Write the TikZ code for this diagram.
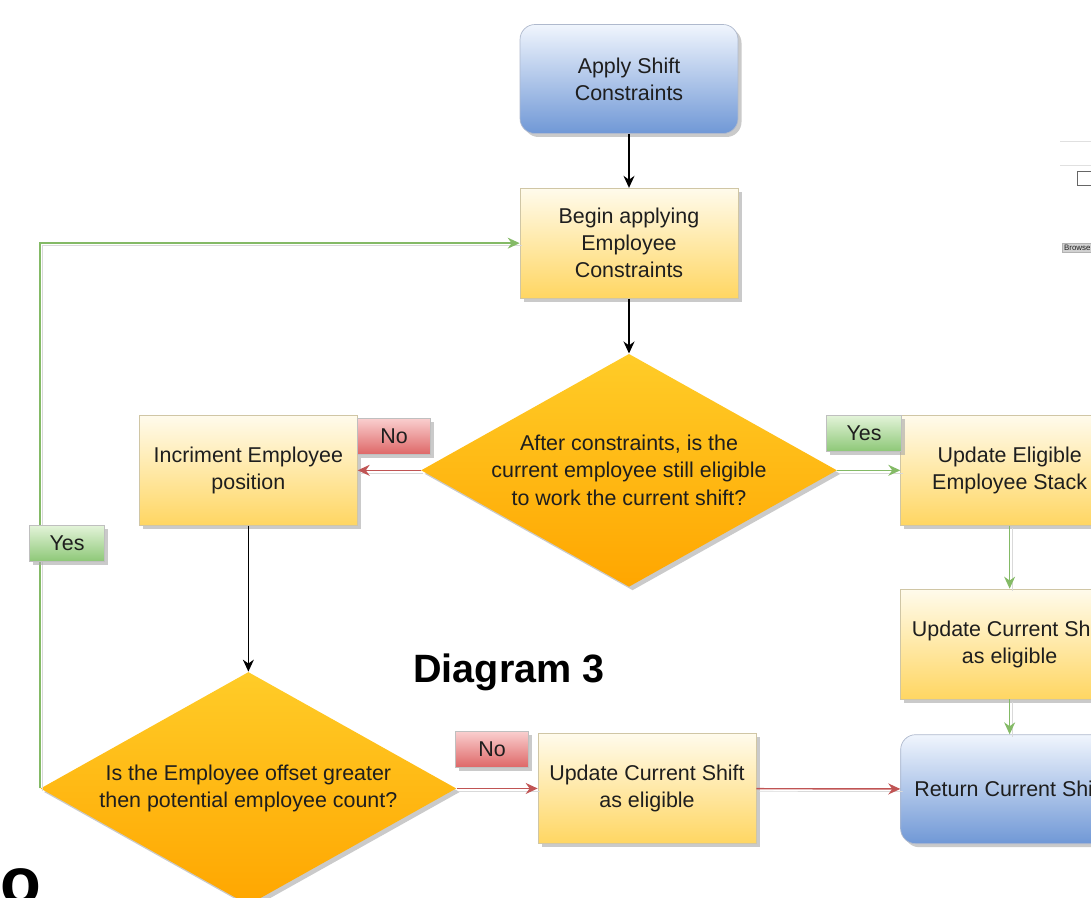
\documentclass[tikz,border=0pt]{standalone}
\usepackage{fontspec}
\setmainfont{Liberation Sans}
\usepackage{xcolor}
\usetikzlibrary{arrows.meta,positioning,shapes.geometric,shadows}

\definecolor{boxtop}{RGB}{255,251,236}
\definecolor{boxmid}{RGB}{255,236,165}
\definecolor{boxbot}{RGB}{255,214,98}
\definecolor{boxline}{RGB}{208,198,165}
\definecolor{termtop}{RGB}{240,245,253}
\definecolor{termbot}{RGB}{112,152,214}
\definecolor{termline}{RGB}{175,185,205}
\definecolor{decitop}{RGB}{255,204,40}
\definecolor{decibot}{RGB}{255,166,0}
\definecolor{notop}{RGB}{250,208,208}
\definecolor{nobot}{RGB}{222,104,104}
\definecolor{yestop}{RGB}{228,244,218}
\definecolor{yesbot}{RGB}{142,200,120}
\definecolor{noline}{RGB}{192,84,84}
\definecolor{yesline}{RGB}{132,186,102}
\definecolor{inkgray}{RGB}{30,30,30}

\begin{document}
\begin{tikzpicture}[
  x=0.02cm,y=-0.02cm,
  every node/.style={text=inkgray,font=\fontsize{12.2}{15.4}\selectfont},
  shade/.style={drop shadow={shadow xshift=2pt,shadow yshift=-2pt,fill=black!35,opacity=0.6}},
  process/.style={
    rectangle,draw=boxline,shade,
    top color=boxtop,middle color=boxmid,bottom color=boxbot,
    minimum width=4.36cm,minimum height=2.2cm,
    align=center
  },
  terminal/.style={
    rectangle,draw=termline,rounded corners=0.3cm,shade,
    top color=termtop,bottom color=termbot,
    minimum width=4.36cm,minimum height=2.18cm,
    align=center
  },
  decision/.style={
    diamond,draw=none,shade,
    top color=decitop,bottom color=decibot,
    minimum width=8.32cm,minimum height=4.66cm,inner sep=0pt
  },
  asktext/.style={align=center,inner sep=0pt},
  notag/.style={rectangle,draw=black!25,top color=notop,bottom color=nobot,
    minimum width=1.46cm,minimum height=0.72cm,inner sep=0pt,shade},
  yestag/.style={rectangle,draw=black!25,top color=yestop,bottom color=yesbot,
    minimum width=1.5cm,minimum height=0.72cm,inner sep=0pt,shade},
  arrow/.style={-{Stealth[length=2.4mm,width=2.2mm]},thick,black},
  flowshade/.style={preaction={draw=black!15,-,transform canvas={shift={(1.5pt,-1.5pt)}}}},
  noflow/.style={-{Stealth[length=2.4mm,width=2.2mm]},thick,noline,flowshade},
  yesflow/.style={-{Stealth[length=2.4mm,width=2.2mm]},thick,yesline,flowshade}
]

\clip (0,0) rectangle (1091,898);

% main column
\node[terminal] (apply) at (629,79) {Apply Shift\\Constraints};
\node[process, below=1.08cm of apply] (begin) {Begin applying\\Employee\\Constraints};
\node[decision, below=1.1cm of begin,
  label={[asktext]center:{After constraints, is the\\current employee still eligible\\to work the current shift?}}] (elig) {};

% left branch
\node[process, left=1.26cm of elig] (incr) {Incriment Employee\\position};
\node[decision, below=2.92cm of incr,
  label={[asktext]center:{Is the Employee offset greater\\then potential employee count?}}] (offs) {};
\node[process, right=1.62cm of offs] (curB) {Update Current Shift\\as eligible};

% right branch
\node[process, right=1.26cm of elig] (stack) {Update Eligible\\Employee Stack};
\node[process, below=1.26cm of stack] (curR) {Update Current Shift\\as eligible};
\node[terminal, below=0.7cm of curR] (ret) {Return Current Shift};

\draw[arrow] (apply) -- (begin);
\draw[arrow] (begin) -- (elig);
\draw[noflow] (elig.west) -- (elig.west -| incr.east);
\draw[yesflow] (elig.east) -- (elig.east -| stack.west);
\draw[arrow] (incr) -- (offs);
\draw[yesflow] (stack) -- (curR);
\draw[yesflow] (curR) -- (ret);
\draw[noflow] (offs.east) -- (curB);
\draw[noflow] (curB) -- (ret);
\draw[yesflow] (offs.west) |- (begin.west);

% branch tags
\node[notag] (noA) at (394,436) {No};
\node[yestag] (yesA) at (864,433) {Yes};
\node[notag] (noB) at (492,749) {No};
\node[yestag] (yesL) at (67,543) {Yes};

\node[anchor=base west,inner sep=0pt,text=black,
  font=\fontsize{22.5}{27}\selectfont\bfseries] (title) at (413,682) {Diagram 3};
\node[anchor=base west,inner sep=0pt,text=black,
  font=\fontsize{38}{40}\selectfont\bfseries] (stray) at (0,904) {o};

% bits of the page behind
\draw[black!12] (1060,141) -- (1091,141);
\draw[black!12] (1060,165) -- (1091,165);
\draw[black!60] (1077,171) rectangle (1097,185);
\node[fill=black!18,draw=black!30,inner sep=1pt,anchor=west,
  font=\fontsize{4.5}{5}\selectfont] (browse) at (1062,248) {Browse};

\end{tikzpicture}
\end{document}
